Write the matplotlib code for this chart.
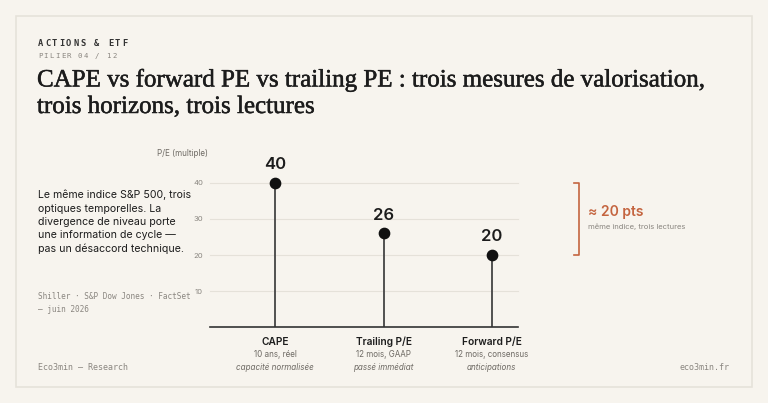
import matplotlib
matplotlib.use("Agg")
import matplotlib.pyplot as plt
from matplotlib.patches import Rectangle
import matplotlib.patheffects as pe

categories = ["CAPE", "Trailing P/E", "Forward P/E"]
values = [40, 26, 20]
sub1 = ["10 ans, réel", "12 mois, GAAP", "12 mois, consensus"]
sub2 = ["capacité normalisée", "passé immédiat", "anticipations"]
yticks = [10, 20, 30, 40]

BG = "#f7f4ee"
INK = "#1c1c1c"
GREY = "#8a8680"
ACC = "#c4643f"

fig = plt.figure(figsize=(7.68, 4.03), dpi=100)
fig.patch.set_facecolor(BG)
W, H = 768, 403
def fx(x): return x / W
def fy(y): return 1 - y / H

def tracked(text, x0, y, step, **kw):
    for i, ch in enumerate(text):
        if ch != " ":
            fig.text(fx(x0 + i * step), fy(y), ch, va="center", **kw)

fig.patches.append(Rectangle((fx(16), fy(387)), fx(752) - fx(16), fy(16) - fy(387),
                             transform=fig.transFigure, fill=False, edgecolor="#e6e2da", lw=1.2))

tracked("ACTIONS & ETF", 38, 43, 7.0, family="DejaVu Sans Mono", fontsize=6.3,
        fontweight="bold", color="#333333")
tracked("PILIER 04 / 12", 38, 56, 5.7, family="DejaVu Sans Mono", fontsize=5.3, color=GREY)
stroke = [pe.withStroke(linewidth=0.35, foreground=INK)]
fig.text(fx(37), fy(80), "CAPE vs forward PE vs trailing PE : trois mesures de valorisation,",
         family="Liberation Serif", fontsize=18, color=INK, va="center", path_effects=stroke)
fig.text(fx(37), fy(107), "trois horizons, trois lectures",
         family="Liberation Serif", fontsize=18, color=INK, va="center", path_effects=stroke)

fig.text(fx(38), fy(222), "Le même indice S&P 500, trois\noptiques temporelles. La\ndivergence de niveau porte\nune information de cycle —\npas un désaccord technique.",
         family="Inter", fontsize=7.6, color=INK, va="center", linespacing=1.4)
fig.text(fx(38), fy(303), "Shiller · S&P Dow Jones · FactSet\n— juin 2026", family="DejaVu Sans Mono",
         fontsize=5.6, color=GREY, va="center", linespacing=1.5)
fig.text(fx(38), fy(368), "Eco3min — Research", family="DejaVu Sans Mono", fontsize=6, color=GREY, va="center")
fig.text(fx(730), fy(368), "eco3min.fr", family="DejaVu Sans Mono", fontsize=6, color=GREY, va="center", ha="right")

ax = fig.add_axes([fx(210), fy(327), fx(518) - fx(210), fy(183) - fy(327)])
ax.set_facecolor(BG)
ax.set_xlim(-0.6, 2.24)
ax.set_ylim(0, 40)
for s in ["top", "right", "left"]:
    ax.spines[s].set_visible(False)
ax.spines["bottom"].set_color("#333333")
ax.spines["bottom"].set_linewidth(1.2)
for t in yticks:
    ax.axhline(t, color="#e5e1d9", lw=0.8, zorder=0, clip_on=False)
ax.set_yticks(yticks)
ax.set_yticklabels([str(t) for t in yticks], family="Inter", fontsize=5.5, color=GREY)
ax.tick_params(axis="y", length=0, pad=5)
ax.set_xticks([])
x = list(range(len(categories)))
ax.vlines(x, 0, values, color="#444444", lw=1.3, zorder=2)
ax.scatter(x, values, s=55, color="#111111", zorder=3, clip_on=False)
for xi, v, c, a, b in zip(x, values, categories, sub1, sub2):
    ax.annotate(str(v), (xi, v), xytext=(0, 13), textcoords="offset points", ha="center",
                va="center", family="Inter", fontsize=12, fontweight="semibold", color=INK)
    ax.annotate(c, (xi, 0), xytext=(0, -10.5), textcoords="offset points", ha="center", va="center",
                family="Inter", fontsize=7.3, fontweight="semibold", color=INK, annotation_clip=False)
    ax.annotate(a, (xi, 0), xytext=(0, -20), textcoords="offset points", ha="center", va="center",
                family="Inter", fontsize=5.8, color="#6e6a64", annotation_clip=False)
    ax.annotate(b, (xi, 0), xytext=(0, -29), textcoords="offset points", ha="center", va="center",
                family="Inter", fontsize=5.8, style="italic", color="#6e6a64", annotation_clip=False)
ax.text(-0.62, 48.3, "P/E (multiple)", ha="right", va="center", family="Inter", fontsize=5.8,
        color="#6e6a64", clip_on=False)

# bracket
bx0, bx1 = fx(574), fx(579)
fig.lines.append(plt.Line2D([bx0, bx1, bx1, bx0], [fy(183), fy(183), fy(255), fy(255)],
                            transform=fig.transFigure, color=ACC, lw=1.2))
fig.text(fx(588), fy(212), "≈ 20 pts", family="Inter", fontsize=10, fontweight="semibold", color=ACC, va="center")
fig.text(fx(588), fy(227), "même indice, trois lectures", family="Inter", fontsize=5.5, color=GREY, va="center")

fig.savefig("out.png", dpi=100, facecolor=BG)
